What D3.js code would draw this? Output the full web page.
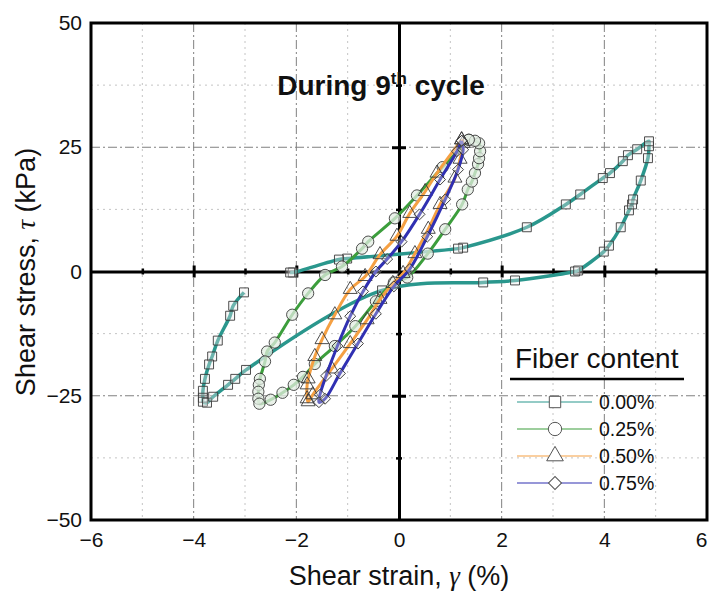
<!DOCTYPE html>
<html>
<head>
<meta charset="utf-8">
<script src="https://cdn.jsdelivr.net/npm/d3@7"></script>
<style>
  body { margin: 0; background: #fff; }
  text { font-family: "Liberation Sans", Arial, sans-serif; fill: #111; }
</style>
</head>
<body>
<div id="canvas"></div>
<script>
"use strict"

/* tick values */
let xTicks = [-6, -4, -2, 0, 2, 4, 6];
let yTicks = [-50, -25, 0, 25, 50];
let xMajorGrid = [-4, -2, 2, 4];
let xMinorGrid = [-5, -3, -1, 1, 3, 5];
let yMajorGrid = [-25, 25];
let yMinorGrid = [-37.5, -12.5, 12.5, 37.5];

/* legend labels */
let fiberLabels = ["0.00%", "0.25%", "0.50%", "0.75%"];

/* [shear strain %, shear stress kPa] */
let fiber000 = [
  [-3.02, -4.2], [-3.23, -6.9], [-3.29, -8.9], [-3.53, -13.9], [-3.64, -17.1],
  [-3.70, -18.7], [-3.78, -21.6], [-3.82, -24.0], [-3.82, -25.4], [-3.82, -26.2],
  [-3.74, -26.4], [-3.62, -25.2], [-3.33, -22.8], [-3.19, -21.6], [-2.98, -19.8],
  [-0.33, -3.8], [1.64, -2.2], [2.26, -1.8], [3.43, 0.0], [3.49, 0.2],
  [3.99, 4.0], [4.09, 5.2], [4.32, 8.9], [4.48, 12.3], [4.54, 13.5],
  [4.56, 14.5], [4.71, 18.3], [4.85, 22.8], [4.87, 25.2], [4.87, 26.2],
  [4.64, 24.6], [4.46, 23.4], [4.36, 22.2], [4.11, 19.8], [3.97, 18.8],
  [3.53, 15.5], [3.25, 13.5], [2.49, 8.9], [1.25, 4.8], [1.15, 4.6],
  [-1.01, 2.6], [-1.17, 2.4], [-2.07, -0.2], [-2.12, -0.2]
];

let fiber025 = [
  [1.36, 26.5], [0.85, 21.0], [0.35, 15.3], [-0.08, 10.7], [-0.60, 6.0],
  [-0.72, 4.6], [-1.11, 1.0], [-1.44, -0.7], [-1.77, -4.4], [-2.08, -8.7],
  [-2.42, -14.3], [-2.57, -16.1], [-2.61, -18.1], [-2.71, -21.6], [-2.73, -22.8],
  [-2.74, -24.2], [-2.74, -25.6], [-2.72, -26.6], [-2.50, -25.8], [-2.27, -24.4],
  [-2.05, -22.8], [-1.87, -21.2], [-1.64, -18.6], [-1.25, -15.0], [-0.85, -11.0],
  [-0.45, -6.0], [-0.10, -2.2], [0.16, -1.2], [0.56, 3.6], [0.90, 8.5],
  [1.23, 13.5], [1.34, 16.5], [1.42, 18.1], [1.48, 19.8], [1.54, 21.6],
  [1.56, 22.8], [1.58, 24.2], [1.56, 25.8], [1.48, 26.3], [1.36, 26.5]
];

let fiber050 = [
  [1.22, 26.5], [0.74, 19.8], [0.51, 16.1], [0.21, 11.7], [-0.04, 7.1],
  [-0.37, 3.4], [-0.66, -1.0], [-0.95, -3.6], [-1.25, -8.7], [-1.50, -13.7],
  [-1.64, -17.1], [-1.77, -21.6], [-1.79, -22.8], [-1.79, -25.6], [-1.77, -26.2],
  [-1.68, -24.8], [-1.31, -19.6], [-0.95, -14.5], [-0.62, -9.7], [-0.37, -5.6],
  [-0.12, -2.4], [0.08, -0.4], [0.31, 3.6], [0.57, 8.5], [0.80, 13.5],
  [1.09, 18.8], [1.19, 22.6], [1.25, 25.8], [1.22, 26.5]
];

let fiber075 = [
  [1.22, 26.3], [1.13, 24.2], [0.80, 18.5], [0.40, 11.5], [0.05, 6.0],
  [-0.23, 2.5], [-0.45, 0.0], [-0.70, -4.0], [-0.95, -9.0], [-1.20, -15.0],
  [-1.42, -21.0], [-1.54, -24.8], [-1.56, -26.3], [-1.44, -25.6], [-1.15, -20.5],
  [-0.80, -14.5], [-0.45, -8.5], [-0.10, -3.0], [0.21, 0.5], [0.55, 7.0],
  [0.90, 14.5], [1.15, 20.5], [1.25, 24.5], [1.22, 26.3]
];

let seriesData = [fiber000, fiber025, fiber050, fiber075];
let seriesColors = ["#2a978d", "#3c9e3c", "#f5a043", "#3030b2"];
let seriesWidths = [3.5, 3, 3, 3];

let drawing = d3.select("#canvas")
    .append("svg")
    .attr("width", 710)
    .attr("height", 592);

let x = d3.scaleLinear().domain([-6, 6]).range([91, 707]);
let y = d3.scaleLinear().domain([-50, 50]).range([520, 23]);

/* grid */
let grid = drawing.append("g");
grid.selectAll(".xminor").data(xMinorGrid).join("line")
    .attr("x1", d => x(d)).attr("x2", d => x(d))
    .attr("y1", y(50)).attr("y2", y(-50))
    .attr("stroke", "#c4c4c4").attr("stroke-dasharray", "2,4");
grid.selectAll(".yminor").data(yMinorGrid).join("line")
    .attr("x1", x(-6)).attr("x2", x(6))
    .attr("y1", d => y(d)).attr("y2", d => y(d))
    .attr("stroke", "#c4c4c4").attr("stroke-dasharray", "2,4");
grid.selectAll(".xmajor").data(xMajorGrid).join("line")
    .attr("x1", d => x(d)).attr("x2", d => x(d))
    .attr("y1", y(50)).attr("y2", y(-50))
    .attr("stroke", "#808080").attr("stroke-dasharray", "9,3,2,3");
grid.selectAll(".ymajor").data(yMajorGrid).join("line")
    .attr("x1", x(-6)).attr("x2", x(6))
    .attr("y1", d => y(d)).attr("y2", d => y(d))
    .attr("stroke", "#808080").attr("stroke-dasharray", "9,3,2,3");

/* axes through the origin with crossing ticks */
let xCenter = drawing.append("g")
    .attr("transform", "translate(0," + y(0) + ")")
    .call(d3.axisBottom(x).tickValues([-5, -4, -3, -2, -1, 1, 2, 3, 4, 5]).tickFormat("").tickSizeOuter(0));
xCenter.select(".domain").attr("stroke", "#000").attr("stroke-width", 3);
xCenter.selectAll(".tick line")
    .attr("y1", d => d % 2 === 0 ? -6 : -3)
    .attr("y2", d => d % 2 === 0 ? 6 : 3)
    .attr("stroke", "#000")
    .attr("stroke-width", d => d % 2 === 0 ? 3 : 2.5);

let yCenter = drawing.append("g")
    .attr("transform", "translate(" + x(0) + ",0)")
    .call(d3.axisLeft(y).tickValues([-37.5, -25, -12.5, 12.5, 25, 37.5]).tickFormat("").tickSizeOuter(0));
yCenter.select(".domain").attr("stroke", "#000").attr("stroke-width", 3);
yCenter.selectAll(".tick line")
    .attr("x1", d => d % 25 === 0 ? -7 : -3)
    .attr("x2", d => d % 25 === 0 ? 7 : 3)
    .attr("stroke", "#000")
    .attr("stroke-width", d => d % 25 === 0 ? 3 : 2.5);

/* series */
let lineGen = d3.line()
    .x(d => x(d[0]))
    .y(d => y(d[1]))
    .curve(d3.curveCatmullRom.alpha(0.5));

let symbolTypes = [d3.symbolSquare, d3.symbolCircle, d3.symbolTriangle, d3.symbolSquare];
let symbolSizes = [80, 100, 85, 60];
let symbolFills = ["rgba(235,235,235,0.35)", "rgba(226,236,226,0.75)", "none", "rgba(240,240,240,0.3)"];
let symbolRotate = [0, 0, 0, 45];

seriesData.forEach(function (data, i) {
    drawing.append("path")
        .datum(data)
        .attr("d", lineGen)
        .attr("fill", "none")
        .attr("stroke", seriesColors[i])
        .attr("stroke-width", seriesWidths[i])
        .attr("stroke-linejoin", "round");
    drawing.append("g").selectAll("path")
        .data(data)
        .join("path")
        .attr("d", d3.symbol().type(symbolTypes[i]).size(symbolSizes[i]))
        .attr("transform", d => "translate(" + x(d[0]) + "," + y(d[1]) + ") rotate(" + symbolRotate[i] + ")")
        .attr("fill", symbolFills[i])
        .attr("stroke", "#3a3a3a")
        .attr("stroke-width", 0.9);
});

/* frame */
drawing.append("rect")
    .attr("x", x(-6)).attr("y", y(50))
    .attr("width", x(6) - x(-6)).attr("height", y(-50) - y(50))
    .attr("fill", "none").attr("stroke", "#000").attr("stroke-width", 3);

/* tick labels */
let xAxis = drawing.append("g")
    .attr("transform", "translate(0," + y(-50) + ")")
    .call(d3.axisBottom(x).tickValues(xTicks).tickSize(0).tickPadding(12)
        .tickFormat(d => d < 0 ? "\u2212" + Math.abs(d) : d));
xAxis.select(".domain").remove();
xAxis.selectAll("text").attr("font-size", 21).attr("fill", "#111")
    .attr("font-family", "Liberation Sans, Arial, sans-serif");
// last label sits on the window edge; keep it inside
xAxis.selectAll("text").filter(d => d === 6).attr("text-anchor", "end").attr("dx", 0);

let yAxis = drawing.append("g")
    .attr("transform", "translate(" + x(-6) + ",0)")
    .call(d3.axisLeft(y).tickValues(yTicks).tickSize(0).tickPadding(9)
        .tickFormat(d => d < 0 ? "\u2212" + Math.abs(d) : d));
yAxis.select(".domain").remove();
yAxis.selectAll("text").attr("font-size", 21).attr("fill", "#111")
    .attr("font-family", "Liberation Sans, Arial, sans-serif");

/* axis titles */
let xTitle = drawing.append("text")
    .attr("x", 399).attr("y", 585)
    .attr("text-anchor", "middle")
    .attr("font-size", 27);
xTitle.append("tspan").text("Shear strain, ");
xTitle.append("tspan").text("\u03b3").attr("font-family", "Liberation Serif, serif").attr("font-style", "italic");
xTitle.append("tspan").text(" (%)");

let yTitle = drawing.append("text")
    .attr("transform", "translate(35,272) rotate(-90)")
    .attr("text-anchor", "middle")
    .attr("font-size", 27);
yTitle.append("tspan").text("Shear stress, ");
yTitle.append("tspan").text("\u03c4").attr("font-family", "Liberation Serif, serif").attr("font-style", "italic");
yTitle.append("tspan").text(" (kPa)");

/* chart title */
let title = drawing.append("text")
    .attr("x", 381).attr("y", 95)
    .attr("text-anchor", "middle")
    .attr("font-size", 28)
    .attr("font-weight", "bold");
title.append("tspan").text("During 9");
title.append("tspan").text("th").attr("font-size", 17).attr("dy", -11);
title.append("tspan").text(" cycle").attr("dy", 11);

/* legend */
let legend = drawing.append("g");
legend.append("text")
    .attr("x", 515).attr("y", 368)
    .attr("font-size", 28)
    .text("Fiber content");
legend.append("line")
    .attr("x1", 510).attr("x2", 684)
    .attr("y1", 379).attr("y2", 379)
    .attr("stroke", "#000").attr("stroke-width", 2.5);

let legendSizes = [130, 140, 120, 85];
fiberLabels.forEach(function (label, i) {
    let rowY = 402 + i * 27;
    legend.append("line")
        .attr("x1", 517).attr("x2", 592)
        .attr("y1", rowY).attr("y2", rowY)
        .attr("stroke", seriesColors[i]).attr("stroke-width", 1.2);
    legend.append("path")
        .attr("d", d3.symbol().type(symbolTypes[i]).size(legendSizes[i]))
        .attr("transform", "translate(555," + rowY + ") rotate(" + symbolRotate[i] + ")")
        .attr("fill", "#fff")
        .attr("stroke", "#555")
        .attr("stroke-width", 1);
    legend.append("text")
        .attr("x", 599).attr("y", rowY)
        .attr("dy", "0.36em")
        .attr("font-size", 19.5)
        .text(label);
});
</script>
</body>
</html>
